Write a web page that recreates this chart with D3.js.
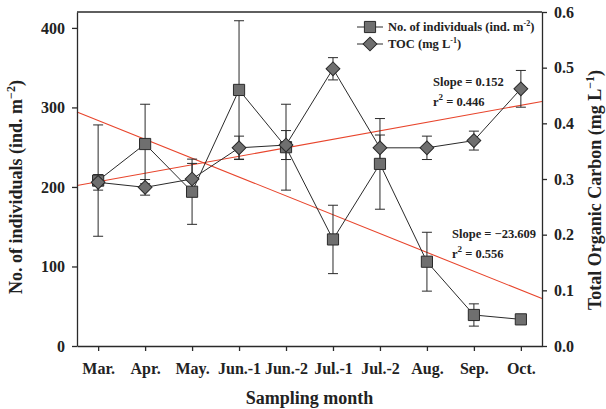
<!DOCTYPE html>
<html>
<head>
<meta charset="utf-8">
<script src="https://cdn.jsdelivr.net/npm/d3@7"></script>
<style>
  body { margin: 0; background: #fff; }
  text { font-family: "Liberation Serif", "Times New Roman", serif; font-weight: bold; fill: #222; }
</style>
</head>
<body>
<div id="chart"></div>
<script>
var months = ["Mar.", "Apr.", "May.", "Jun.-1", "Jun.-2", "Jul.-1", "Jul.-2", "Aug.", "Sep.", "Oct."]
var individuals = [208, 254, 194, 322, 250, 134, 229, 106, 39, 33.5]
var individualsErr = [70, 50, 41, 87, 54, 43, 57, 37, 14, 0]
var toc = [0.294, 0.285, 0.300, 0.356, 0.361, 0.498, 0.356, 0.356, 0.369, 0.462]
var tocErr = [0.014, 0.014, 0.028, 0.021, 0.026, 0.02, 0.023, 0.021, 0.017, 0.033]
var leftTicks = [0, 100, 200, 300, 400]
var rightTicks = [0, 0.1, 0.2, 0.3, 0.4, 0.5, 0.6]

var width = 606, height = 409
var margin = {top: 12, right: 64, bottom: 63, left: 77}

var svg = d3.select("#chart").append("svg")
  .attr("width", width)
  .attr("height", height)

var x = d3.scaleLinear().domain([-0.45, 9.45]).range([margin.left, width - margin.right])
var yL = d3.scaleLinear().domain([0, 420]).range([height - margin.bottom, margin.top])
var yR = d3.scaleLinear().domain([0, 0.6]).range([height - margin.bottom, margin.top])

var ink = "#2a2a2a"

// least squares fit against sample index
function fit(vals) {
  var n = vals.length, mx = (n - 1) / 2, my = d3.mean(vals)
  var sxy = 0, sxx = 0
  vals.forEach((v, i) => { sxy += (i - mx) * (v - my); sxx += (i - mx) * (i - mx) })
  var b = sxy / sxx
  return i => my + b * (i - mx)
}
var fitInd = fit(individuals)
var fitToc = fit(toc)

var dom = x.domain()
svg.append("line")
  .attr("x1", x(dom[0])).attr("x2", x(dom[1]))
  .attr("y1", yL(fitInd(dom[0]))).attr("y2", yL(fitInd(dom[1])))
  .attr("stroke", "#e8452c").attr("stroke-width", 1.1)
svg.append("line")
  .attr("x1", x(dom[0])).attr("x2", x(dom[1]))
  .attr("y1", yR(fitToc(dom[0]))).attr("y2", yR(fitToc(dom[1])))
  .attr("stroke", "#e8452c").attr("stroke-width", 1.1)

// axes
var bottom = svg.append("g")
  .attr("transform", `translate(0,${height - margin.bottom})`)
  .call(d3.axisBottom(x).tickValues(d3.range(10)).tickFormat(i => months[i]).tickSize(5).tickPadding(12).tickSizeOuter(0))
var left = svg.append("g")
  .attr("transform", `translate(${margin.left},0)`)
  .call(d3.axisLeft(yL).tickValues(leftTicks).tickSize(5).tickPadding(7).tickSizeOuter(0))
var right = svg.append("g")
  .attr("transform", `translate(${width - margin.right},0)`)
  .call(d3.axisRight(yR).tickValues(rightTicks).tickFormat(d3.format(".1f")).tickSize(5).tickPadding(7).tickSizeOuter(0))

svg.append("line")
  .attr("x1", margin.left).attr("x2", width - margin.right)
  .attr("y1", margin.top).attr("y2", margin.top)
  .attr("stroke", ink).attr("stroke-width", 1.3)

;[bottom, left, right].forEach(g => {
  g.selectAll("path, line").attr("stroke", ink).attr("stroke-width", 1.3)
  g.selectAll("text").style("font-size", "16px").attr("fill", "#222")
    .style("font-family", '"Liberation Serif", serif').style("font-weight", "bold")
})

// series lines
var lineInd = d3.line().x((d, i) => x(i)).y(d => yL(d))
var lineToc = d3.line().x((d, i) => x(i)).y(d => yR(d))

svg.append("path").datum(individuals).attr("d", lineInd)
  .attr("fill", "none").attr("stroke", ink).attr("stroke-width", 1)
svg.append("path").datum(toc).attr("d", lineToc)
  .attr("fill", "none").attr("stroke", ink).attr("stroke-width", 1)

function errorBars(vals, errs, y) {
  var g = svg.append("g").attr("stroke", ink).attr("stroke-width", 1)
  vals.forEach((v, i) => {
    if (!errs[i]) return
    var cx = x(i)
    g.append("line").attr("x1", cx).attr("x2", cx).attr("y1", y(v - errs[i])).attr("y2", y(v + errs[i]))
    g.append("line").attr("x1", cx - 5).attr("x2", cx + 5).attr("y1", y(v + errs[i])).attr("y2", y(v + errs[i]))
    g.append("line").attr("x1", cx - 5).attr("x2", cx + 5).attr("y1", y(v - errs[i])).attr("y2", y(v - errs[i]))
  })
}
errorBars(individuals, individualsErr, yL)
errorBars(toc, tocErr, yR)

var fillGrey = "#6f6f6f"
var square = d3.symbol().type(d3.symbolSquare).size(125)
var diamond = d3.symbol().type(d3.symbolSquare).size(95)

svg.append("g").selectAll("path").data(individuals).join("path")
  .attr("d", square)
  .attr("transform", (d, i) => `translate(${x(i)},${yL(d)})`)
  .attr("fill", fillGrey).attr("stroke", ink).attr("stroke-width", 1)

svg.append("g").selectAll("path").data(toc).join("path")
  .attr("d", diamond)
  .attr("transform", (d, i) => `translate(${x(i)},${yR(d)}) rotate(45)`)
  .attr("fill", fillGrey).attr("stroke", ink).attr("stroke-width", 1)

// legend
var legend = svg.append("g").attr("transform", "translate(357,27)")
var legendItems = [
  {shape: square, rot: 0, label: "No. of individuals (ind. m", sup: "-2"},
  {shape: diamond, rot: 45, label: "TOC (mg L", sup: "-1"}
]
legendItems.forEach((d, i) => {
  var row = legend.append("g").attr("transform", `translate(0,${i * 17})`)
  row.append("line").attr("x1", 0).attr("x2", 26).attr("stroke", ink).attr("stroke-width", 1)
  row.append("path").attr("d", d.shape).attr("transform", `translate(13,0) rotate(${d.rot})`)
    .attr("fill", fillGrey).attr("stroke", ink).attr("stroke-width", 1)
  var t = row.append("text").attr("x", 31).attr("dy", "0.35em").style("font-size", "12.5px")
  t.append("tspan").text(d.label)
  t.append("tspan").attr("dy", -5).style("font-size", "8px").text(d.sup)
  t.append("tspan").attr("dy", 5).text(")")
})

// regression annotations
function annotate(xp, yp, slope, r2) {
  var g = svg.append("g").style("font-size", "12.5px")
  g.append("text").attr("x", xp).attr("y", yp).text("Slope = " + slope)
  var t = g.append("text").attr("x", xp).attr("y", yp + 20)
  t.append("tspan").text("r")
  t.append("tspan").attr("dy", -6).style("font-size", "9px").text("2")
  t.append("tspan").attr("dy", 6).text(" = " + r2)
}
annotate(433, 86, "0.152", "0.446")
annotate(452, 238, "\u221223.609", "0.556")

// axis titles
svg.append("text")
  .attr("x", x(4.5)).attr("y", 404)
  .attr("text-anchor", "middle")
  .style("font-size", "18px")
  .text("Sampling month")

function yTitle(cx, cy, label, sup) {
  var t = svg.append("text")
    .attr("transform", `translate(${cx},${cy}) rotate(-90)`)
    .attr("text-anchor", "middle")
    .style("font-size", "18px")
  t.append("tspan").text(label)
  t.append("tspan").attr("dy", -7).style("font-size", "12px").text(sup)
  t.append("tspan").attr("dy", 7).text(")")
}
yTitle(22, 187, "No. of individuals (ind. m", "\u22122")
yTitle(601, 190, "Total Organic Carbon (mg L", "\u22121")
</script>
</body>
</html>
